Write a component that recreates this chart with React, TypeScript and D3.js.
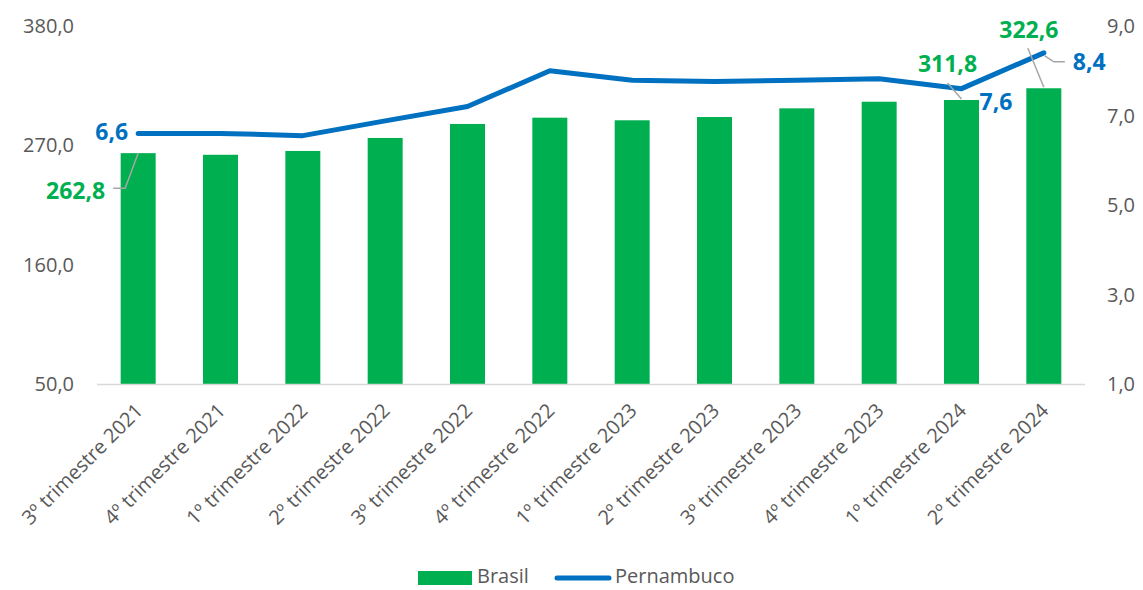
import React from "react";
import * as d3 from "d3";

const categories = [
  "3º trimestre 2021",
  "4º trimestre 2021",
  "1º trimestre 2022",
  "2º trimestre 2022",
  "3º trimestre 2022",
  "4º trimestre 2022",
  "1º trimestre 2023",
  "2º trimestre 2023",
  "3º trimestre 2023",
  "4º trimestre 2023",
  "1º trimestre 2024",
  "2º trimestre 2024",
];
const brasil = [262.8, 261.3, 264.8, 276.8, 289.7, 295.5, 293.1, 296.1, 304.1, 310.2, 311.8, 322.6];
const pernambuco = [6.6, 6.6, 6.55, 6.88, 7.2, 8.0, 7.79, 7.76, 7.79, 7.82, 7.6, 8.4];
const leftTicks = [50, 160, 270, 380];
const rightTicks = [1, 3, 5, 7, 9];

const GREEN = "#00B050";
const BLUE = "#0070C0";
const GREY = "#595959";
const LEADER = "#A6A6A6";
const FONT = "'Open Sans', 'Noto Sans', sans-serif";

const ptBR = d3.formatLocale({ decimal: ",", thousands: ".", grouping: [3], currency: ["R$", ""] });
const fmt = ptBR.format(".1f");

export default function App() {
  const width = 1143, height = 590;
  const left = 97, right = 1085, top = 26, bottom = 384;

  const x = d3.scaleBand<string>().domain(categories).range([left, right]).paddingInner(0.575).paddingOuter(0.2875);
  const yL = d3.scaleLinear().domain([50, 380]).range([bottom, top]);
  const yR = d3.scaleLinear().domain([1, 9]).range([bottom, top]);
  const cx = (i: number) => (x(categories[i]) as number) + x.bandwidth() / 2;

  const line = d3.line<number>()
    .x((_, i) => cx(i))
    .y((d) => yR(d));

  const first = 0, n11 = 10, last = categories.length - 1;

  return (
    <svg width={width} height={height} style={{ position: "absolute", left: 0, top: 0, background: "#fff" }} fontFamily={FONT}>
      {/* bars */}
      {brasil.map((v, i) => (
        <rect key={i} x={x(categories[i])} y={yL(v)} width={x.bandwidth()} height={yL(50) - yL(v)} fill={GREEN} />
      ))}
      {/* baseline */}
      <line x1={left} x2={right} y1={bottom + 0.5} y2={bottom + 0.5} stroke="#D9D9D9" strokeWidth={1.5} />

      {/* left axis */}
      {leftTicks.map((t) => (
        <text key={t} x={74} y={yL(t)} dy="0.35em" textAnchor="end" fontSize={20} fill={GREY}>{fmt(t)}</text>
      ))}
      {/* right axis */}
      {rightTicks.map((t) => (
        <text key={t} x={1107} y={yR(t)} dy="0.35em" textAnchor="start" fontSize={20} fill={GREY}>{fmt(t)}</text>
      ))}

      {/* category labels */}
      {categories.map((c, i) => (
        <text key={c} transform={`translate(${cx(i) + 6},${412}) rotate(-45)`} textAnchor="end" fontSize={20} fill={GREY}>{c}</text>
      ))}

      {/* line */}
      <path d={line(pernambuco) as string} fill="none" stroke={BLUE} strokeWidth={5} strokeLinejoin="round" strokeLinecap="round" />

      {/* leader lines */}
      <polyline points={`${cx(first)},${yL(brasil[first])} ${cx(first) - 13},${yL(brasil[first]) + 35} ${cx(first) - 25},${yL(brasil[first]) + 35}`} fill="none" stroke={LEADER} strokeWidth={1.5} />
      <polyline points={`${cx(n11)},${yL(brasil[n11]) - 1} ${cx(n11) - 14},${yL(brasil[n11]) - 17}`} fill="none" stroke={LEADER} strokeWidth={1.5} />
      <polyline points={`${cx(last)},${yL(brasil[last]) - 1} ${cx(last) - 16},${yL(brasil[last]) - 40}`} fill="none" stroke={LEADER} strokeWidth={1.5} />
      <polyline points={`${cx(last) + 1},${yR(pernambuco[last]) + 3} ${cx(last) + 10},${yR(pernambuco[last]) + 9} ${cx(last) + 21},${yR(pernambuco[last]) + 9}`} fill="none" stroke={LEADER} strokeWidth={1.5} />

      {/* data labels */}
      <g fontSize={23} fontWeight="bold">
        <text x={cx(first) - 33} y={yL(brasil[first]) + 46} textAnchor="end" fill={GREEN}>{fmt(brasil[first])}</text>
        <text x={cx(first) - 10} y={yR(pernambuco[first]) + 7} textAnchor="end" fill={BLUE}>{fmt(pernambuco[first])}</text>
        <text x={cx(n11) - 14} y={yL(brasil[n11]) - 28} textAnchor="middle" fill={GREEN}>{fmt(brasil[n11])}</text>
        <text x={cx(n11) + 18} y={yR(pernambuco[n11]) + 21} textAnchor="start" fill={BLUE}>{fmt(pernambuco[n11])}</text>
        <text x={cx(last) - 15} y={yL(brasil[last]) - 50} textAnchor="middle" fill={GREEN}>{fmt(brasil[last])}</text>
        <text x={cx(last) + 29} y={yR(pernambuco[last]) + 17} textAnchor="start" fill={BLUE}>{fmt(pernambuco[last])}</text>
      </g>

      {/* legend */}
      <rect x={418} y={571} width={54} height={14} fill={GREEN} />
      <text x={477} y={583} fontSize={20} fill={GREY}>Brasil</text>
      <line x1={557} x2={609} y1={578} y2={578} stroke={BLUE} strokeWidth={5} strokeLinecap="round" />
      <text x={615} y={583} fontSize={20} fill={GREY}>Pernambuco</text>
    </svg>
  );
}
